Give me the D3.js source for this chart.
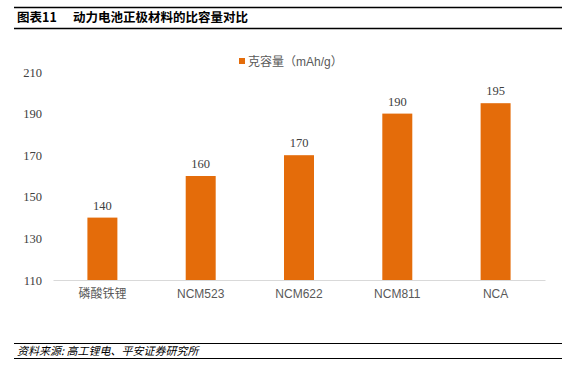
<!DOCTYPE html>
<html>
<head>
<meta charset="utf-8">
<script src="https://cdn.jsdelivr.net/npm/d3@7"></script>
<style>
  body { margin: 0; background: #fff; }
  svg { display: block; }
</style>
</head>
<body>
<div id="chart"></div>
<script>
      var categories = ["磷酸铁锂", "NCM523", "NCM622", "NCM811", "NCA"];
      var capacity = [140, 160, 170, 190, 195];
      var yTicks = [110, 130, 150, 170, 190, 210];
      var seriesName = "克容量（mAh/g）";

      var width = 583, height = 376;
      var margin = {top: 72, right: 38, bottom: 96, left: 53};

      var svg = d3.select("#chart").append("svg")
          .attr("width", width)
          .attr("height", height);

      // title bar
      svg.append("line").attr("x1", 14).attr("x2", 562).attr("y1", 7.5).attr("y2", 7.5)
          .attr("stroke", "#000").attr("stroke-width", 1.3);
      svg.append("line").attr("x1", 14).attr("x2", 562).attr("y1", 28.5).attr("y2", 28.5)
          .attr("stroke", "#000").attr("stroke-width", 1.3);
      svg.append("text").attr("x", 17).attr("y", 22)
          .attr("font-family", "'Noto Sans CJK SC', sans-serif")
          .attr("font-weight", "bold").attr("font-size", 12.5).attr("fill", "#000")
          .text("图表11");
      svg.append("text").attr("x", 73).attr("y", 22)
          .attr("font-family", "'Noto Sans CJK SC', sans-serif")
          .attr("font-weight", "bold").attr("font-size", 12.5).attr("fill", "#000")
          .text("动力电池正极材料的比容量对比");

      // footer
      svg.append("line").attr("x1", 14).attr("x2", 562).attr("y1", 343.5).attr("y2", 343.5)
          .attr("stroke", "#000").attr("stroke-width", 1);
      svg.append("line").attr("x1", 14).attr("x2", 562).attr("y1", 358.5).attr("y2", 358.5)
          .attr("stroke", "#000").attr("stroke-width", 1);
      svg.append("text").attr("x", 17).attr("y", 355)
          .attr("font-family", "'Noto Sans CJK SC', sans-serif")
          .attr("font-style", "italic").attr("font-size", 11).attr("fill", "#000")
          .attr("transform", "skewX(0)")
          .text("资料来源: 高工锂电、平安证券研究所");

      var plotW = width - margin.left - margin.right,
          plotH = height - margin.top - margin.bottom;

      var g = svg.append("g")
          .attr("transform", "translate(" + margin.left + "," + margin.top + ")");

      var xScale = d3.scaleBand().domain(categories).range([0, plotW]).paddingInner(0.695).paddingOuter(0.35);
      var yScale = d3.scaleLinear().domain([110, 210]).range([plotH, 0]);

      // y axis labels
      var yAxis = d3.axisLeft(yScale).tickValues(yTicks).tickSize(0).tickPadding(11);
      var yg = g.append("g").call(yAxis);
      yg.select(".domain").remove();
      yg.selectAll("text")
          .attr("font-family", "'Liberation Serif', 'Times New Roman', serif")
          .attr("font-size", 12.5).attr("fill", "#404040");

      // bars
      g.selectAll("rect.bar")
          .data(capacity)
          .enter()
          .append("rect")
          .attr("class", "bar")
          .attr("x", function(d, i) { return xScale(categories[i]); })
          .attr("y", function(d) { return yScale(d); })
          .attr("width", xScale.bandwidth())
          .attr("height", function(d) { return plotH - yScale(d); })
          .attr("fill", "#E46C0A");

      // value labels
      g.selectAll("text.val")
          .data(capacity)
          .enter()
          .append("text")
          .attr("class", "val")
          .attr("x", function(d, i) { return xScale(categories[i]) + xScale.bandwidth() / 2; })
          .attr("y", function(d) { return yScale(d) - 8; })
          .attr("text-anchor", "middle")
          .attr("font-family", "'Liberation Serif', 'Times New Roman', serif")
          .attr("font-size", 12.5).attr("fill", "#404040")
          .text(function(d) { return d; });

      // x axis
      var xAxis = d3.axisBottom(xScale).tickSize(0).tickPadding(9);
      var xg = g.append("g").attr("transform", "translate(0," + plotH + ")").call(xAxis);
      xg.select(".domain").attr("stroke", "#d9d9d9").attr("stroke-width", 1);
      xg.selectAll("text")
          .attr("font-family", "'Liberation Sans', Arial, 'Noto Sans CJK SC', sans-serif")
          .attr("font-size", 12).attr("fill", "#595959");

      // legend
      var legend = svg.append("g").attr("transform", "translate(239,58)");
      legend.append("rect").attr("x", 0).attr("y", 0).attr("width", 6).attr("height", 6)
          .attr("fill", "#E46C0A");
      legend.append("text").attr("x", 9).attr("y", 7.5)
          .attr("font-family", "'Liberation Sans', Arial, 'Noto Sans CJK SC', sans-serif")
          .attr("font-size", 12).attr("fill", "#595959")
          .text(seriesName);
</script>
</body>
</html>
